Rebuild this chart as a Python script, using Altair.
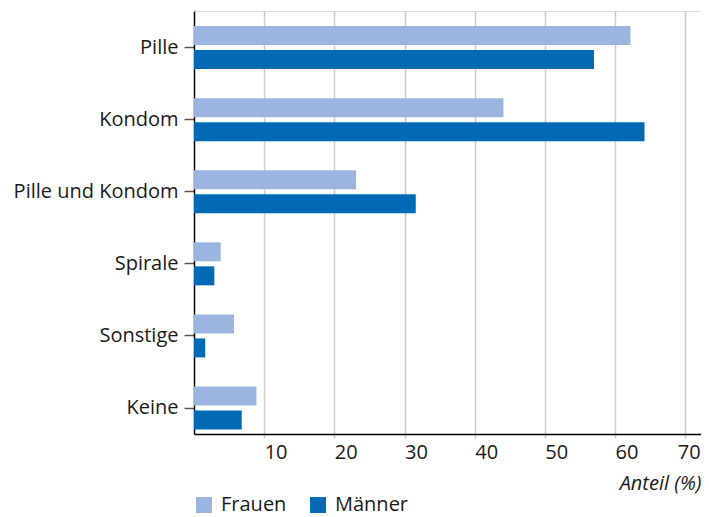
import altair as alt
import pandas as pd

categories = ["Pille", "Kondom", "Pille und Kondom", "Spirale", "Sonstige", "Keine"]
series = ["Frauen", "Männer"]
frauen = [62.2, 44.1, 23.1, 3.8, 5.7, 8.9]
maenner = [57.0, 64.2, 31.6, 2.9, 1.6, 6.8]
colors = ["#9bb5e0", "#0269b4"]
x_ticks = [10, 20, 30, 40, 50, 60, 70]

rows = []
for c, f, m in zip(categories, frauen, maenner):
    rows.append({"Methode": c, "Geschlecht": "Frauen", "Anteil": f})
    rows.append({"Methode": c, "Geschlecht": "Männer", "Anteil": m})
df = pd.DataFrame(rows)

FONT = "Open Sans"
FS = 20

chart = alt.Chart(df).mark_bar().encode(
    y=alt.Y("Methode:N", sort=categories,
            scale=alt.Scale(paddingInner=0.404, paddingOuter=0.136, align=0.77),
            axis=alt.Axis(title=None, grid=False, domainColor="#000000", domainWidth=1.5,
                          tickColor="#555555", tickSize=10, tickWidth=1.5,
                          labelFontSize=FS, labelColor="#1a1a1a", labelPadding=6,
                          labelFont=FONT)),
    yOffset=alt.YOffset("Geschlecht:N", sort=series,
                        scale=alt.Scale(paddingInner=0.21, paddingOuter=0)),
    x=alt.X("Anteil:Q", scale=alt.Scale(domain=[0, 72.25], nice=False),
            axis=alt.Axis(values=x_ticks, title="Anteil (%)", grid=True,
                          gridColor="#cccccc", gridWidth=1.5,
                          domainColor="#000000", domainWidth=1.5,
                          tickColor="#cccccc", tickWidth=1.5, tickSize=4,
                          labelFontSize=FS, labelColor="#1a1a1a", labelAlign="left",
                          labelOffset=alt.condition("datum.value == 70", alt.value(-8), alt.value(0)),
                          labelPadding=4, labelFont=FONT,
                          titleFont=FONT, titleFontSize=FS, titleFontStyle="italic",
                          titleFontWeight="normal", titleColor="#1a1a1a",
                          titleAlign="right", titleX=507, titleY=55,
                          titleBaseline="alphabetic")),
    color=alt.Color("Geschlecht:N", sort=series,
                    scale=alt.Scale(domain=series, range=colors),
                    legend=alt.Legend(title=None, orient="none", legendX=0, legendY=484,
                                      direction="horizontal", symbolType="square",
                                      symbolSize=256, symbolStrokeWidth=0,
                                      labelFontSize=FS, labelFont=FONT,
                                      labelColor="#1a1a1a", labelOffset=7,
                                      columnPadding=21, padding=0)),
).properties(
    width=507, height=423,
    autosize=alt.AutoSizeParams(type="none"),
    padding={"left": 186, "top": 3, "right": 0, "bottom": 95},
).configure_view(stroke=None).configure(font=FONT)

chart.save("out.html", embed_options={"renderer": "svg", "actions": False})
